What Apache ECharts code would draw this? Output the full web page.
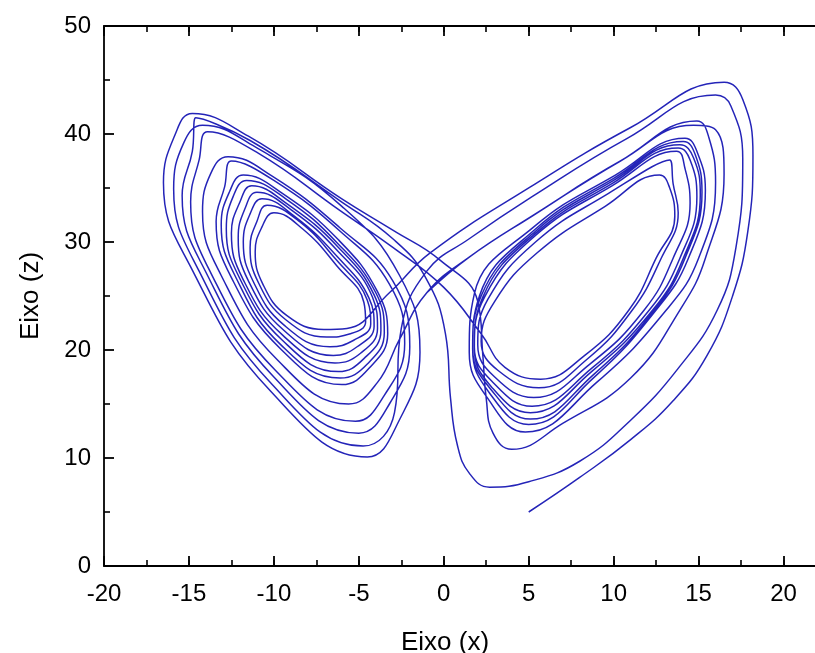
<!DOCTYPE html>
<html>
<head>
<meta charset="utf-8">
<title>Eixo (x) x Eixo (z)</title>
<script src="https://cdn.jsdelivr.net/npm/echarts@6/dist/echarts.min.js"></script>
<style>
  html, body { margin: 0; padding: 0; background: #fff; }
  #chart { width: 815px; height: 653px; }
</style>
</head>
<body>
<div id="chart"></div>
<script>
// trajectory, as [x, z] pairs, in drawing order
const startRun = [[5,5],[8,8.2],[11,11.7],[13.5,15.3],[15.5,19.5],[17,25],[17.9,31],[18.2,38],[17.6,43.2],[16.5,44.8],
  [11,40.6],[5.1,35.1],[-0.8,29],[-3.2,25.3]];

const leftSpiralA = [
  [-5.7,22.0],[-7.05,21.9],[-9.25,23.2],[-10.65,26.1],[-11.1,29.1],[-10.7,31.4],
  [-10.0,32.7],[-8.3,31.2],[-6.3,27.8],[-4.7,24.4],[-4.6,22.6],[-5.5,21.5],[-6.9,21.2],[-9.3,22.8],[-10.9,26.2],[-11.4,29.5],[-11.0,31.9],
  [-10.4,33.4],[-8.5,31.9],[-6.3,28.3],[-4.5,24.6],[-4.3,22.4],[-5.3,20.9],[-6.7,20.3],[-9.4,22.3],[-11.2,26.3],[-11.8,30.0],[-11.4,32.6],
  [-10.7,34.0],[-8.8,32.4],[-6.3,28.7],[-4.4,24.8],[-4.1,22.2],[-5.1,20.3],[-6.5,19.5],[-9.4,21.8],[-11.5,26.4],[-12.1,30.4],[-11.7,33.1],
  [-11.0,34.6],[-9.0,33.0],[-6.2,29.1],[-4.2,24.9],[-3.9,22.0],[-4.9,19.7],[-6.4,18.8],[-9.5,21.4],[-11.8,26.5],[-12.5,30.8],[-12.0,33.7],
  [-11.3,35.2],[-9.2,33.5],[-6.2,29.5],[-4.1,25.1],[-3.7,21.8],[-4.7,19.2],[-6.2,18.0],[-9.5,20.9],[-12.0,26.6],[-12.8,31.2],[-12.4,34.2],
  [-11.6,35.7],[-9.3,34.0],[-6.2,29.8],[-4.0,25.3],[-3.5,21.6],[-4.5,18.7],[-6.1,17.4],[-9.6,20.5],[-12.2,26.6],[-13.1,31.6],[-12.6,34.7],
  [-11.8,36.2],[-9.5,34.5],[-6.2,30.2],[-3.9,25.4],[-3.3,21.5],[-4.4,18.3],[-6.0,16.8],[-9.6,20.1],[-12.5,26.7],[-13.4,31.9],[-12.9,35.1],
  [-12.5,37.5],[-10.0,35.7],[-6.1,31.0],[-3.2,26.1],[-2.3,20.6],[-3.5,15.8],[-5.2,13.4],[-9.9,18.1],[-13.7,27.1],[-14.9,33.7],[-14.4,37.6],
  [-13.9,40.2],[-10.9,38.2],[-6.1,32.9]
];

const crossAB = [[-3,29.5],[0,25.8],[2.2,21.5],[3.6,18.4]];

const rightSpiralA = [
  [5.7,17.3],[8.3,19.5],[10.9,23.7],[12.5,28.5],[13.6,32.4],[13.3,35.0],
  [12.7,36.2],[9.5,33.3],[5.5,29.0],[3.0,24.5],[2.2,20.8],[3.2,18.1],[5.6,16.5],[8.4,19.1],[11.1,23.7],[12.8,28.5],[13.8,32.7],[13.5,35.4],
  [13.3,37.6],[9.7,34.5],[5.4,30.0],[2.6,24.7],[2.0,20.5],[3.0,17.5],[5.3,15.6],[8.6,18.7],[11.8,23.7],[13.5,28.5],[14.5,33.6],[14.2,36.8],
  [13.7,38.4],[9.9,35.2],[5.4,30.6],[2.4,24.9],[1.8,20.3],[2.9,17.0],[5.2,14.8],[8.7,18.3],[12.1,23.7],[13.9,28.5],[14.9,34.2],[14.5,37.6],
  [13.8,38.7],[9.9,35.4],[5.4,30.8],[2.3,24.9],[1.8,20.2],[2.8,16.6],[5.1,14.2],[8.7,18.0],[12.3,23.7],[14.1,28.5],[15.1,34.4],[14.7,37.8],
  [13.9,39.0],[10.0,35.7],[5.4,31.0],[2.2,25.0],[1.7,20.2],[2.8,16.3],[5.1,13.6],[8.8,17.7],[12.4,23.7],[14.2,28.5],[15.2,34.6],[14.8,38.1],
  [14.1,39.3],[10.0,35.9],[5.4,31.2],[2.1,25.0],[1.7,20.1],[2.7,16.0],[5.0,13.1],[8.8,17.4],[12.5,23.7],[14.4,28.5],[15.4,34.8],[14.9,38.4],
  [14.2,39.6],[10.1,36.2],[5.3,31.4],[1.8,25.2],[1.5,19.8],[2.6,15.5],[4.8,12.4],[9.0,17.0],[13.1,23.7],[15.0,28.5],[16.0,35.5],[15.6,39.7],
  [14.9,41.2],[10.4,37.5],[5.3,32.5]
];

const crossBC = [[1.5,28.6],[-1,25.3],[-2.6,21]];

const leftSpiralB = [
  [-3.9,17.0],[-5.6,15.0],[-9.8,19.1],[-13.1,26.9],[-14.2,32.8],[-13.7,36.4],
  [-12.7,37.9],[-10.1,36.1],[-6.1,31.3],[-3.0,26.4],[-2.0,20.3],[-3.2,15.0],[-5.0,12.3],[-10.0,17.5],[-14.0,27.2],[-15.4,34.3],[-14.8,38.4],
  [-14.6,41.5],[-11.4,39.4],[-6.0,33.7]
];

// the deep dip under the centre, then the big right loop
const dipRun = [[-3,30.3],[-1.1,26.8],[0.1,21.5],[0.4,15.5],[0.8,11.2],[1.5,8.6],[2.7,7.3],[5,7.8],[8,9.7],[11,13.5],
  [13.8,18.3],[16.1,23.7],[17.2,29.5],[17.6,37.7],[16.9,42.6],[16.0,43.6],[10.8,39.6],[5.2,34.2],[1.5,30.3],[-1,27.3],[-2.5,22]];

const leftSpiralC = [
  [-2.9,14.2],[-4.75,11.1],[-10.1,16.8],[-14.4,27.3],[-15.9,34.9],[-15.3,39.2],
  [-14.2,40.8],[-11.1,38.8],[-6.0,33.3],[-2.6,26.9],[-1.4,19.8],[-2.65,13.4],[-4.5,10.1],[-10.2,16.2],[-14.8,27.4],[-16.5,35.5],[-15.8,40.0],
  [-14.8,41.9],[-11.5,39.8],[-6.0,34.0]
];

// last pass ends on top of the earlier crossing so no loose end shows
const finalRun = [[-3,31.1],[-0.2,28.3],[2,24.5],[2.3,19.5],[2.5,15.5],[2.9,12.3],[4,10.8],[7,13.2],[11,17.4],[13.9,23.7],[15.4,28.5],[16.5,36.3],
  [16.0,40.4],[14.7,40.8],[10.4,37.5],[5.3,32.5],[1.5,28.6],[-1,25.3]];

const xTicks = { min: -20, max: 22.5, major: 5, minor: 2.5 };
const zTicks = { min: 0, max: 50, major: 10 };

const path = [].concat(startRun, leftSpiralA, crossAB, rightSpiralA, crossBC, leftSpiralB, dipRun, leftSpiralC, finalRun);

const chart = echarts.init(document.getElementById('chart'), null, { renderer: 'canvas' });

const FONT = '"Liberation Sans", Arial, Helvetica, sans-serif';
const axisLine = { show: true, onZero: false, lineStyle: { color: '#000', width: 1.8 } };

// major x axis (labels) + a second one only for the short ticks
function xAxisPair(pos, withLabels) {
  return [{
    type: 'value', position: pos, min: xTicks.min, max: xTicks.max, interval: xTicks.major,
    axisLine: axisLine,
    axisTick: { show: true, inside: true, length: 10, lineStyle: { color: '#000', width: 1.8 } },
    splitLine: { show: false },
    axisLabel: {
      show: withLabels, color: '#000', fontSize: 24, fontFamily: FONT, margin: 16,
      formatter: function (v) { return v > 20 ? '' : String(v); }
    },
    name: withLabels ? 'Eixo (x)' : '',
    nameLocation: 'middle', nameGap: 64,
    // axis runs past the picture, pull the name back to the visible middle
    nameTextStyle: { color: '#000', fontSize: 26, fontFamily: FONT, padding: [0, 40, 0, 0] }
  }, {
    type: 'value', position: pos, min: xTicks.min, max: xTicks.max, interval: xTicks.minor,
    axisLine: { show: false, onZero: false },
    axisTick: { show: true, inside: true, length: 6, lineStyle: { color: '#000', width: 1.6 } },
    splitLine: { show: false },
    axisLabel: { show: false }
  }];
}

function zAxis(pos, withLabels) {
  return {
    type: 'value', position: pos, min: zTicks.min, max: zTicks.max, interval: zTicks.major,
    axisLine: axisLine,
    axisTick: { show: true, inside: true, length: 10, lineStyle: { color: '#000', width: 1.8 } },
    minorTick: { show: true, splitNumber: 2, length: 6, lineStyle: { color: '#000', width: 1.6 } },
    splitLine: { show: false },
    axisLabel: { show: withLabels, color: '#000', fontSize: 24, fontFamily: FONT, margin: 13 },
    name: withLabels ? 'Eixo (z)' : '',
    nameLocation: 'middle', nameGap: 60,
    nameTextStyle: { color: '#000', fontSize: 26, fontFamily: FONT }
  };
}

const option = {
  animation: false,
  backgroundColor: '#fff',
  // plot box runs past the right edge of the picture, like the original
  grid: { left: 104, top: 26, width: 722, height: 540, containLabel: false, outerBoundsMode: 'none' },
  xAxis: [].concat(xAxisPair('bottom', true), xAxisPair('top', false)),
  yAxis: [zAxis('left', true), zAxis('right', false)],
  series: [{
    type: 'line',
    xAxisIndex: 0,
    yAxisIndex: 0,
    data: path,
    smooth: 0.45,
    showSymbol: false,
    symbol: 'none',
    clip: true,
    lineStyle: { color: '#2424b8', width: 1.5 }
  }]
};

chart.setOption(option);
</script>
</body>
</html>
